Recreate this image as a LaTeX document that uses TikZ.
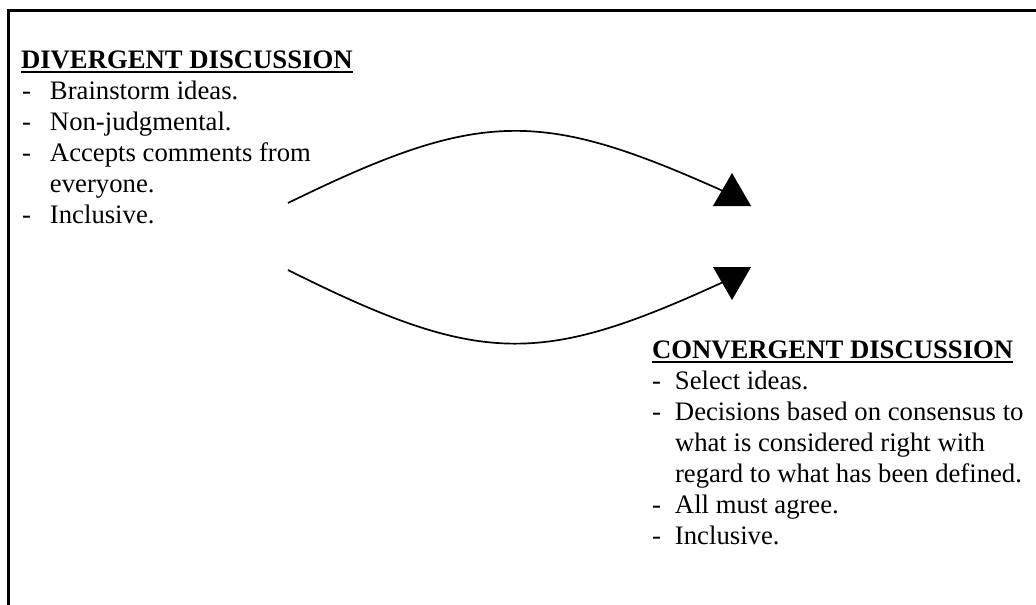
\documentclass[tikz,border=0pt]{standalone}
\usepackage{fontspec}
\setmainfont{Liberation Serif}
\usetikzlibrary{shapes.geometric,positioning}

\newcommand{\hdul}[1]{\setbox0\hbox{#1}\rlap{\vrule height -2.8pt depth 5pt width \wd0}\box0}
\newcommand{\itm}[2][23pt]{\strut\makebox[#1][l]{-}#2}
\newcommand{\cnt}[2][23pt]{\strut\hspace*{#1}#2}

\begin{document}
\begin{tikzpicture}[x=1pt,y=-1pt,
    txt/.style={inner sep=0pt, outer sep=0pt, font=\fontsize{26.7}{31}\selectfont},
    head/.style={txt, anchor=base west, font=\fontsize{26.7}{31}\selectfont\bfseries},
    items/.style={txt, anchor=north west, align=left},
    tri/.style={regular polygon, regular polygon sides=3, fill=black, draw=none,
        minimum size=44pt, inner sep=0pt, outer sep=0pt},
    flow/.style={line width=1.7pt}]
    \useasboundingbox (0,0) rectangle (1036,605);

    % frame
    \draw[line width=3pt] (8.5,605) |- (1036,10.5);

    % divergent side
    \node[head] (divhead) at (21,68) {\hdul{DIVERGENT DISCUSSION}};
    \node[items] (divlist) at (22,77.3) {\itm[28pt]{Brainstorm ideas.}\\
        \itm[28pt]{Non-judgmental.}\\
        \itm[28pt]{Accepts comments from}\\
        \cnt[28pt]{everyone.}\\
        \itm[28pt]{Inclusive.}};

    % convergent side
    \node[head] (convhead) at (652,358) {\hdul{CONVERGENT DISCUSSION}};
    \node[items] (convlist) at (652,367.3) {\itm{Select ideas.}\\
        \itm{Decisions based on consensus to}\\
        \cnt{what is considered right with}\\
        \cnt{regard to what has been defined.}\\
        \itm{All must agree.}\\
        \itm{Inclusive.}};

    % arrows
    \node[tri] (triup) at (732,195) {};
    \node[tri, shape border rotate=180] (tridown) at (732,278) {};
    \coordinate (divstart) at (288,203);
    \coordinate (convstart) at (288,270);

    \draw[flow] (divstart) .. controls (480,109) and (540,109) .. (triup);
    \draw[flow] (convstart) .. controls (480,366) and (540,366) .. (tridown);
\end{tikzpicture}
\end{document}
